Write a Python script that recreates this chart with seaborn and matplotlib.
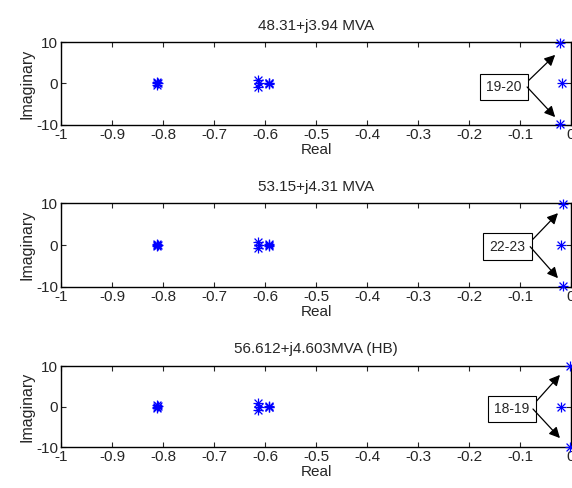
import numpy as np
import pandas as pd
import matplotlib
matplotlib.use('Agg')
import matplotlib.pyplot as plt
import seaborn as sns

sns.set_style('ticks')
plt.rcParams['font.family'] = ['Liberation Sans', 'DejaVu Sans']
plt.rcParams['axes.unicode_minus'] = False

# --- data: eigenvalues (real, imaginary) for three loading cases -------------
titles = ['48.31+j3.94 MVA', '53.15+j4.31 MVA', '56.612+j4.603MVA (HB)']
labels = ['19-20', '22-23', '18-19']

real_1 = [-0.812, -0.812, -0.811, -0.810, -0.614, -0.614, -0.612, -0.593, -0.593, -0.592, -0.022, -0.022, -0.018]
imag_1 = [0.3, -0.3, 0.0, 0.1, 0.8, -0.8, 0.0, 0.2, -0.2, 0.0, 9.8, -9.8, 0.0]

real_2 = [-0.812, -0.812, -0.811, -0.810, -0.614, -0.614, -0.612, -0.593, -0.593, -0.592, -0.015, -0.015, -0.020]
imag_2 = [0.3, -0.3, 0.0, 0.1, 0.8, -0.8, 0.0, 0.2, -0.2, 0.0, 9.8, -9.8, 0.0]

real_3 = [-0.812, -0.812, -0.811, -0.810, -0.614, -0.614, -0.612, -0.593, -0.593, -0.592, -0.001, -0.001, -0.020]
imag_3 = [0.3, -0.3, 0.0, 0.1, 0.8, -0.8, 0.0, 0.2, -0.2, 0.0, 9.9, -9.9, 0.0]

reals = [real_1, real_2, real_3]
imags = [imag_1, imag_2, imag_3]

# annotation geometry (box centre, arrow start, arrow tips) per panel
box_xy   = [(-0.131, -0.84), (-0.124, -0.4), (-0.116, -0.62)]
start_xy = [(-0.086, -0.84), (-0.080, -0.4), (-0.0745, -0.62)]
tip_up   = [(-0.031, 6.9), (-0.0255, 7.6), (-0.0216, 7.8)]
tip_dn   = [(-0.031, -8.1), (-0.0255, -7.9), (-0.0216, -7.8)]

fig = plt.figure(figsize=(5.72, 4.88), dpi=100)
positions = [[0.1066, 0.7439, 0.8916, 0.170],
             [0.1066, 0.4119, 0.8916, 0.172],
             [0.1066, 0.0840, 0.8916, 0.166]]

for i in range(3):
    ax = fig.add_axes(positions[i])
    df = pd.DataFrame({'Real': reals[i], 'Imaginary': imags[i]})
    sns.scatterplot(data=df, x='Real', y='Imaginary', marker='+', s=60,
                    color='blue', linewidth=0.9, ax=ax, zorder=3, clip_on=False)
    sns.scatterplot(data=df, x='Real', y='Imaginary', marker='x', s=32,
                    color='blue', linewidth=0.9, ax=ax, zorder=3, clip_on=False)
    ax.set_xlim(-1, 0)
    ax.set_ylim(-10, 10)
    ax.set_xticks(np.arange(-1, 0.01, 0.1))
    ax.set_xticklabels(['-1', '-0.9', '-0.8', '-0.7', '-0.6', '-0.5', '-0.4',
                        '-0.3', '-0.2', '-0.1', '0'])
    ax.set_yticks([-10, 0, 10])
    ax.tick_params(direction='in', top=True, right=True, length=3.5,
                   width=0.8, labelsize=11, pad=2)
    for sp in ax.spines.values():
        sp.set_linewidth(1.0)
        sp.set_color('black')
    ax.set_title(titles[i], fontsize=11, pad=9)
    ax.set_xlabel('Real', fontsize=11, labelpad=1)
    ax.set_ylabel('Imaginary', fontsize=11.5, labelpad=1)

    arrow = dict(arrowstyle='-|>', color='black', lw=0.9, mutation_scale=16,
                 shrinkA=0, shrinkB=0, relpos=(1, 0.5))
    ax.annotate(labels[i], xy=tip_up[i], xytext=box_xy[i], fontsize=10,
                ha='center', va='center',
                bbox=dict(boxstyle='square,pad=0.45', fc='white', ec='black', lw=0.8),
                arrowprops=arrow)
    ax.annotate('', xy=tip_dn[i], xytext=start_xy[i],
                arrowprops=dict(arrowstyle='-|>', color='black', lw=0.9,
                                mutation_scale=16, shrinkA=0, shrinkB=0))

fig.savefig('out.png', dpi=100)
